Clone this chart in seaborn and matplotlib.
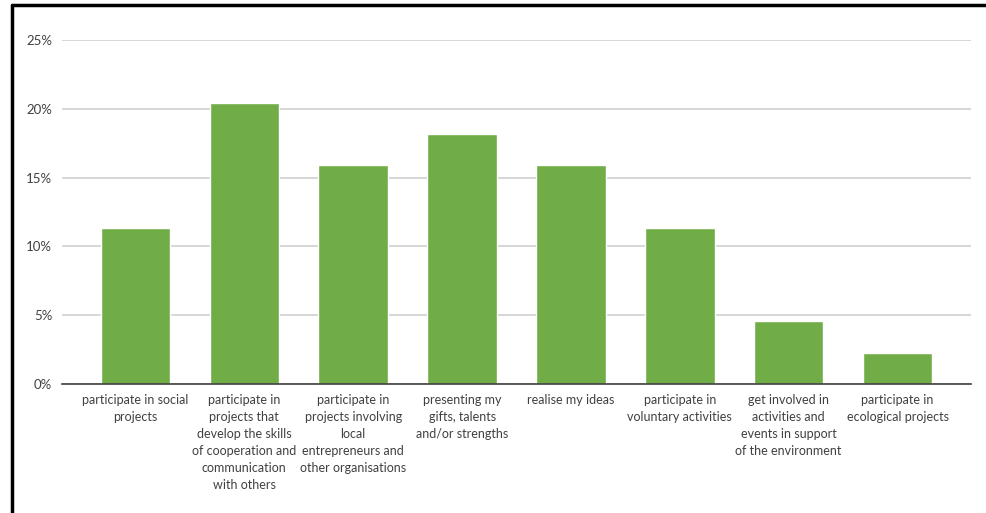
import matplotlib
matplotlib.use("Agg")
import matplotlib.pyplot as plt
from matplotlib.lines import Line2D
from matplotlib.ticker import FuncFormatter
import seaborn as sns
import pandas as pd

categories = [
    "participate in social\nprojects",
    "participate in\nprojects that\ndevelop the skills\nof cooperation and\ncommunication\nwith others",
    "participate in\nprojects involving\nlocal\nentrepreneurs and\nother organisations",
    "presenting my\ngifts, talents\nand/or strengths",
    "realise my ideas",
    "participate in\nvoluntary activities",
    "get involved in\nactivities and\nevents in support\nof the environment",
    "participate in\necological projects",
]
shares = [11.36, 20.45, 15.91, 18.18, 15.91, 11.36, 4.55, 2.27]
y_ticks = [0, 5, 10, 15, 20, 25]

sns.set_theme(style="white")
plt.rcParams["font.family"] = ["Lato", "DejaVu Sans"]

df = pd.DataFrame({"category": categories, "share": shares})

W, H = 986, 513
fig = plt.figure(figsize=(W / 100, H / 100), dpi=100)
ax = fig.add_axes([62 / W, (H - 384) / H, (971 - 62) / W, (384 - 40) / H])

sns.barplot(data=df, x="category", y="share", color="#70AD47", width=0.64,
            saturation=1, ax=ax, zorder=3)

ax.set_ylim(0, 25)
ax.set_xlim(-0.675, 7.675)
ax.set_yticks(y_ticks)
ax.yaxis.set_major_formatter(FuncFormatter(lambda v, _: f"{v:.0f}%"))
ax.grid(axis="y", color="#d0d0d0", linewidth=1.2, zorder=0)
ax.grid(axis="x", visible=False)
ax.set_xlabel("")
ax.set_ylabel("")
for side in ["top", "right", "left"]:
    ax.spines[side].set_visible(False)
ax.spines["bottom"].set_color("#404040")
ax.spines["bottom"].set_linewidth(1.2)
ax.spines["bottom"].set_zorder(4)
ax.tick_params(axis="both", length=0, labelsize=9, colors="#404040")
ax.tick_params(axis="y", pad=7, labelsize=9.5)
ax.tick_params(axis="x", pad=7)
for lbl in ax.get_xticklabels():
    lbl.set_linespacing(1.5)

# frame lines on the left and top edges of the figure
fig.add_artist(Line2D([12 / W, 12 / W], [0, 1 - 5 / H], color="black", linewidth=2.5,
                      transform=fig.transFigure))
fig.add_artist(Line2D([12 / W, 1], [1 - 5 / H, 1 - 5 / H], color="black", linewidth=2.5,
                      transform=fig.transFigure))

fig.savefig("out.png", dpi=100)
